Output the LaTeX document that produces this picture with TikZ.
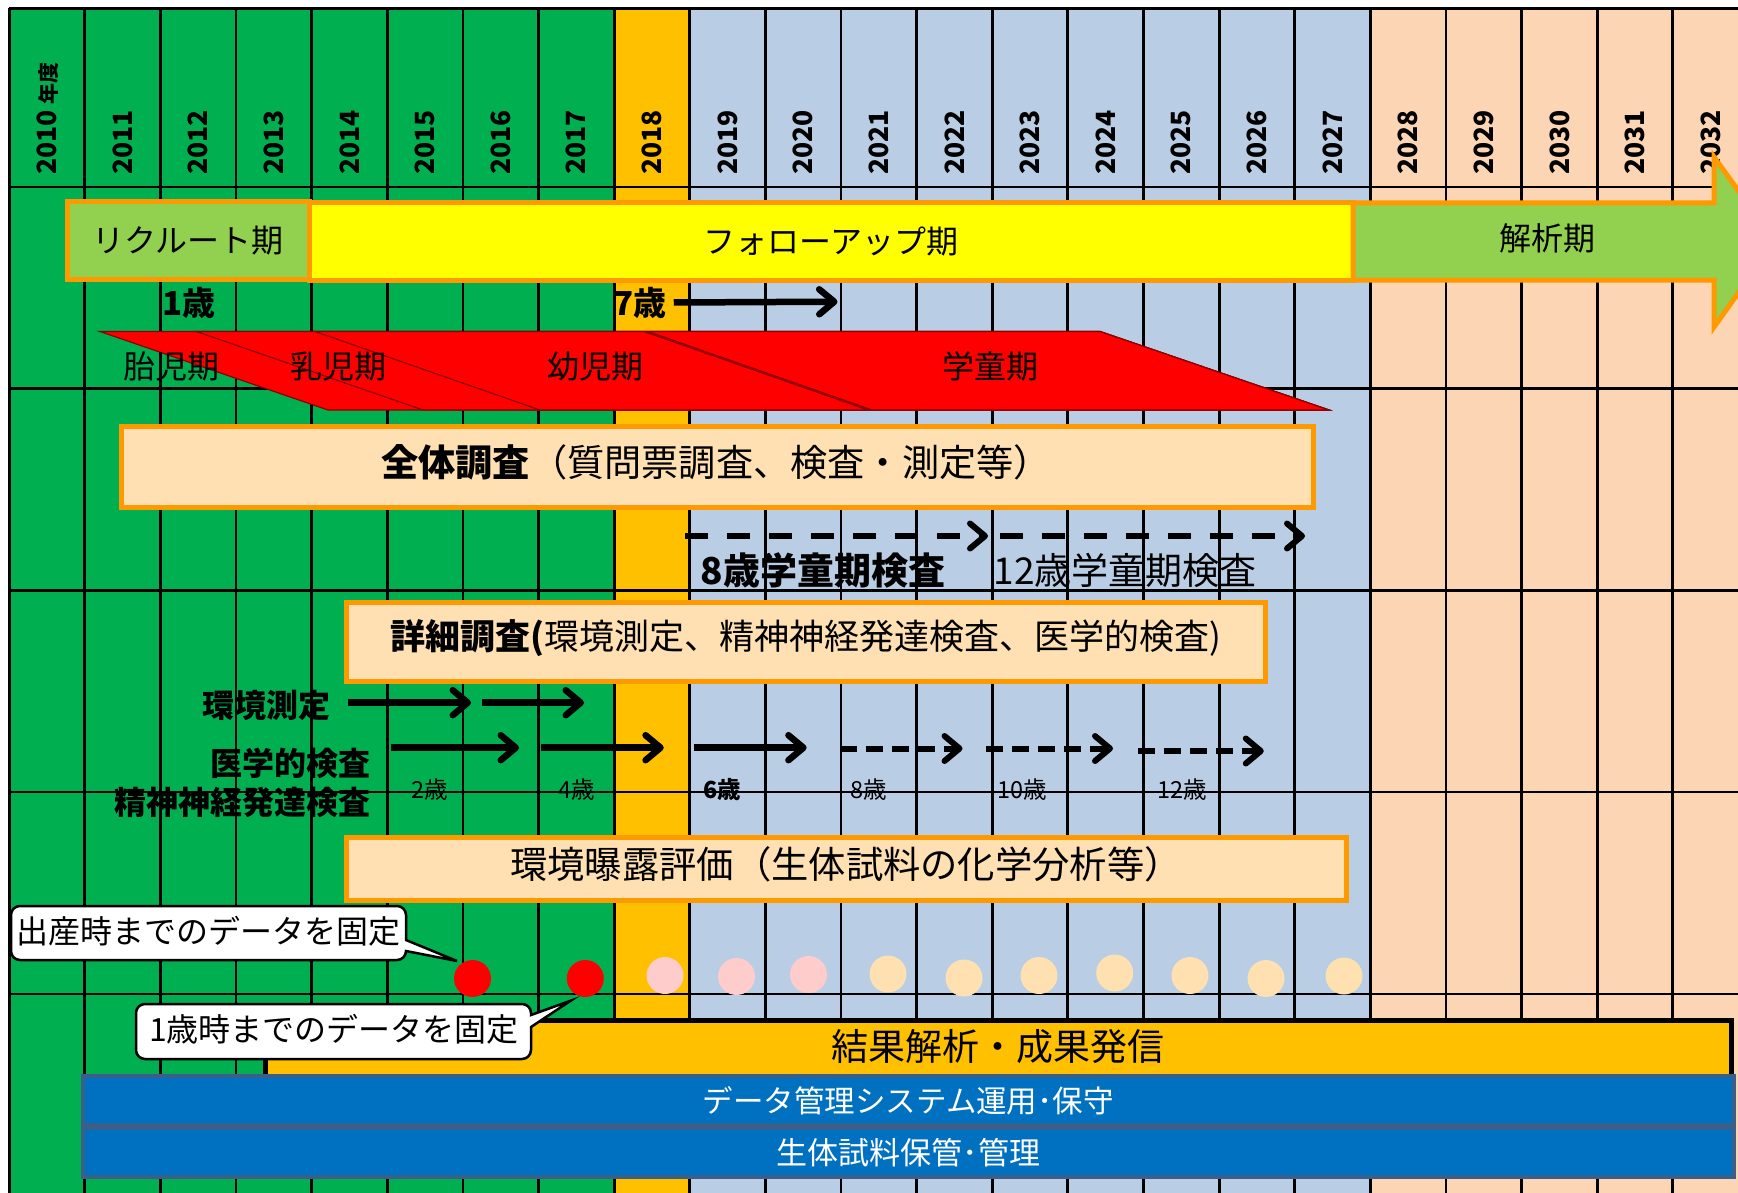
\documentclass[tikz,border=0pt]{standalone}
\usepackage{fontspec}
\setmainfont{Noto Sans CJK JP}
\usetikzlibrary{arrows.meta}
\definecolor{cgreen}{HTML}{00B050}
\definecolor{corange}{HTML}{FFC000}
\definecolor{clblue}{HTML}{B9CDE5}
\definecolor{cpeach}{HTML}{FCD5B5}
\definecolor{lgreen}{HTML}{92D050}
\definecolor{cyellow}{HTML}{FFFF00}
\definecolor{oborder}{HTML}{FF9900}
\definecolor{boxfill}{HTML}{FFE0B2}
\definecolor{pinkdot}{HTML}{FFCCCC}
\definecolor{peachdot}{HTML}{FFE0B0}
\definecolor{barblue}{HTML}{0070C0}
\definecolor{barborder}{HTML}{3A5F8B}
\definecolor{redline}{HTML}{8B0000}
\newcommand{\fsz}[1]{\fontsize{#1}{#1}\selectfont}
\begin{document}
\begin{tikzpicture}[x=1pt,y=-1pt,
  gridline/.style={line width=2.8pt, black},
  yearlab/.style={rotate=90, anchor=west, inner sep=0pt, font=\fsz{26.5}\bfseries},
  phasebox/.style={draw=oborder, line width=5pt, inner sep=0pt, font=\fsz{32}},
  infobox/.style={draw=oborder, fill=boxfill, line width=5pt, inner sep=0pt},
  txt/.style={inner sep=0pt, font=\fsz{#1}},
  txt/.default=32,
  btxt/.style={inner sep=0pt, font=\fsz{#1}\bfseries},
  btxt/.default=32,
  redshape/.style={fill=red, draw=redline, line width=1.2pt},
  arr/.style={line width=6.5pt, -{Straight Barb[length=15pt,width=25pt,round]}},
  darr/.style={arr, line width=6pt, dash pattern=on 23pt off 19pt},
  sdarr/.style={arr, line width=6pt, dash pattern=on 17pt off 9pt},
  callout/.style={draw=black, fill=white, line width=2.5pt},
  bluebar/.style={draw=barborder, fill=barblue, line width=4pt, inner sep=0pt, text=white},
  dot/.style={circle, inner sep=0pt, minimum size=37pt},
]
\useasboundingbox (0,0) rectangle (1738,1193);
\clip (0,0) rectangle (1738,1193);
% column backgrounds
\fill[cgreen] (9.2,8.5) rectangle (614.2,1200);
\fill[corange] (614.2,8.5) rectangle (689.8,1200);
\fill[clblue] (689.8,8.5) rectangle (1370.4,1200);
\fill[cpeach] (1370.4,8.5) rectangle (1760,1200);
% grid
\foreach \i in {0,...,22} \draw[gridline] ({9.2+75.62*\i},8.5) -- ({9.2+75.62*\i},1200);
\foreach \yy in {8.5,187,388.5,590.5,792,994} \draw[gridline] (9.2,\yy) -- (1760,\yy);
% year labels
\node[yearlab] (y2010) at (47.5,175) {2010 {\fsz{21}年度}};
\foreach \i in {1,...,22} {
  \pgfmathtruncatemacro\yr{2010+\i}
  \node[yearlab] (y\yr) at ({9.2+75.62*\i+37.8},175) {\yr};
}
% phases
\node[phasebox, fill=lgreen, minimum width=242pt, minimum height=77pt] (recruit) at (188,240.5) {リクルート期};
\node[phasebox, fill=cyellow, minimum width=1044pt, minimum height=77pt] (follow) at (831,241.5) {フォローアップ期};
\draw[draw=oborder, fill=lgreen, line width=5pt, line join=miter]
  (1353,203) -- (1714,203) -- (1714,157) -- (1775,241.5) -- (1714,327) -- (1714,280) -- (1353,280) -- cycle;
\node[txt=32] (analysis) at (1547,238) {解析期};
% ages
\node[btxt=33] (age1) at (188.6,302.5) {1歳};
\node[btxt=33] (age7) at (640,302.5) {7歳};
\coordinate (a7end) at (837.5,301.7);
\draw[arr] ([xshift=7pt]age7.east) -- (a7end);
% red period shapes
\draw[redshape] (100,331.5) -- (1100,331.5) -- (1329,410) -- (328,410) -- cycle;
\draw[redshape] (196.5,331.5) -- (1100,331.5) -- (1329,410) -- (423,410) -- cycle;
\draw[redshape] (315,331.5) -- (644,331.5) -- (868,410) -- (540,410) -- cycle;
\draw[redshape] (648,331.5) -- (1100,331.5) -- (1329,410) -- (872,410) -- cycle;
\node[txt=32] (taiji) at (171,366.5) {胎児期};
\node[txt=32] (nyuji) at (338,366.5) {乳児期};
\node[txt=32] (yoji) at (595,366.5) {幼児期};
\node[txt=32] (gakudo) at (990,366.5) {学童期};
% overall survey
\node[infobox, minimum width=1192pt, minimum height=81pt] (zentai) at (717,466.5) {};
\node[txt=37.2] (zentaitxt) at (716,462) {{\bfseries 全体調査}（質問票調査、検査・測定等）};
\coordinate (d1s) at (685,536); \coordinate (d1e) at (988,536);
\coordinate (d2s) at (1000,536); \coordinate (d2e) at (1305,536);
\draw[darr] (d1s) -- (d1e);
\draw[darr] (d2s) -- (d2e);
\node[btxt=37] (check8) at (823,570) {8歳学童期検査};
\node[txt=37] (check12) at (1125,570) {12歳学童期検査};
% detailed survey
\node[infobox, minimum width=919pt, minimum height=79pt] (shosai) at (805.5,641.5) {};
\node[txt=35] (shosaitxt) at (806,638) {{\bfseries 詳細調査(}環境測定、精神神経発達検査、医学的検査)};
\node[btxt=32] (kankyo) at (266.5,705) {環境測定};
\coordinate (k1s) at (348,702.7); \coordinate (k1e) at (471,702.7);
\coordinate (k2s) at (482,702.7); \coordinate (k2e) at (584,702.7);
\draw[arr] (k1s) -- (k1e);
\draw[arr] (k2s) -- (k2e);
\node[btxt=32, anchor=east] (igaku) at (371,763) {医学的検査};
\node[btxt=32, anchor=east] (seishin) at (371,802) {精神神経発達検査};
\coordinate (m1s) at (390.6,747.7); \coordinate (m1e) at (519,747.7);
\coordinate (m2s) at (541,747.7); \coordinate (m2e) at (663.8,747.7);
\coordinate (m3s) at (693.8,747.7); \coordinate (m3e) at (806.7,747.7);
\coordinate (m4s) at (839.7,748.5); \coordinate (m4e) at (962.5,748.5);
\coordinate (m5s) at (986,748.5); \coordinate (m5e) at (1113,748.5);
\coordinate (m6s) at (1138,751); \coordinate (m6e) at (1263.8,751);
\draw[arr] (m1s) -- (m1e);
\draw[arr] (m2s) -- (m2e);
\draw[arr] (m3s) -- (m3e);
\draw[sdarr] (m4s) -- (m4e);
\draw[sdarr] (m5s) -- (m5e);
\draw[sdarr] (m6s) -- (m6e);
\node[txt=23.5] (s2) at (429.7,790) {2歳};
\node[txt=23.5] (s4) at (577,790) {4歳};
\node[btxt=23.5] (s6) at (722,790) {6歳};
\node[txt=23.5] (s8) at (869,790) {8歳};
\node[txt=23.5] (s10) at (1022,790) {10歳};
\node[txt=23.5] (s12) at (1182.6,790) {12歳};
% exposure assessment
\node[infobox, minimum width=1000pt, minimum height=63pt] (bakuro) at (846,868.5) {};
\node[txt=37.3] (bakurotxt) at (846,864) {環境曝露評価（生体試料の化学分析等）};
% results bar
\draw[fill=corange, draw=black, line width=5pt] (265,1020) rectangle (1731,1078);
\node[txt=37] (kekka) at (997.5,1047) {結果解析・成果発信};
% callouts
\draw[callout] (406,925) [sharp corners] -- (406,940) -- (457,961) -- (406,951) [rounded corners=9pt] -- (406,960) -- (11,960) -- (11,906) -- (406,906) -- cycle;
\node[txt=32] (c1) at (208.5,931) {出産時までのデータを固定};
\draw[callout] (531,1040) [sharp corners] -- (531,1027) -- (570.7,1000.7) -- (531,1015) [rounded corners=9pt] -- (531,1004) -- (136,1004) -- (136,1059) -- (531,1059) -- cycle;
\node[txt=32] (c2) at (334,1029) {1歳時までのデータを固定};
% dots
\node[dot, fill=red] (p1) at (472.5,978.5) {};
\node[dot, fill=red] (p2) at (585.3,978.5) {};
\node[dot, fill=pinkdot] (p3) at (665,975.5) {};
\node[dot, fill=pinkdot] (p4) at (736.5,976.5) {};
\node[dot, fill=pinkdot] (p5) at (808.5,974.5) {};
\node[dot, fill=peachdot] (p6) at (888,974) {};
\node[dot, fill=peachdot] (p7) at (964,978) {};
\node[dot, fill=peachdot] (p8) at (1039,975.5) {};
\node[dot, fill=peachdot] (p9) at (1114.7,973) {};
\node[dot, fill=peachdot] (p10) at (1190,975.5) {};
\node[dot, fill=peachdot] (p11) at (1266,978.5) {};
\node[dot, fill=peachdot] (p12) at (1344,976) {};
% blue bars
\node[bluebar, font=\fsz{30.5}, minimum width=1651pt, minimum height=49pt] (datasys) at (908.3,1100.5) {データ管理システム運用･保守};
\node[bluebar, font=\fsz{31}, minimum width=1651pt, minimum height=48.7pt] (biobank) at (908.3,1152.3) {生体試料保管･管理};
\end{tikzpicture}
\end{document}
